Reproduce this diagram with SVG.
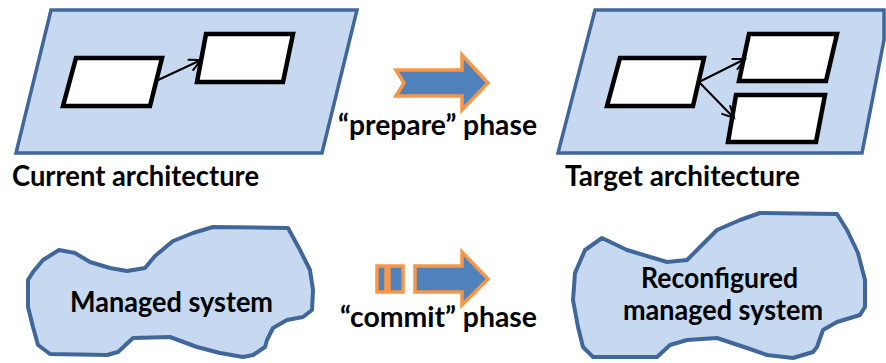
<svg xmlns="http://www.w3.org/2000/svg" width="886" height="363" viewBox="0 0 886 363">
<style>
.plane{fill:#c6d9f1;stroke:#41679a;stroke-width:3.5;stroke-linejoin:miter}
.box{fill:#ffffff;stroke:#000000;stroke-width:4.5;stroke-linejoin:miter}
.cloud{fill:#c6d9f1;stroke:#41679a;stroke-width:4;stroke-linejoin:round}
.conn{fill:none;stroke:#000000;stroke-width:2;marker-end:url(#head)}
.big{fill:#4f81bd;stroke:#f79646;stroke-width:3.5;stroke-linejoin:miter}
.lbl{font-family:Lato,"Open Sans","Liberation Sans",sans-serif;font-weight:bold;font-size:28px;fill:#000000}
</style>
<defs>
<marker id="head" markerUnits="userSpaceOnUse" markerWidth="16" markerHeight="16" refX="13" refY="7" orient="auto">
<path d="M1,1 L13,7 L1,13" fill="none" stroke="#000" stroke-width="2"/>
</marker>
</defs>
<rect width="886" height="363" fill="#ffffff"/>
<g id="current-architecture">
<polygon class="plane" points="51,10 357,10 322,153 16,153"/>
<polygon class="box" points="76,58 162,58 150,106 63,106"/>
<polygon class="box" points="206,34 293,34 283,82 197,82"/>
<text class="lbl" x="12" y="186" textLength="247" lengthAdjust="spacingAndGlyphs">Current architecture</text>
</g>
<g id="target-architecture">
<polygon class="plane" points="595,10 884,10 884,40 862,153 558,153"/>
<polygon class="box" points="620,58 704,58 693,106 607,106"/>
<polygon class="box" points="749,34 837,34 826,81 739,81"/>
<polygon class="box" points="736,95 825,95 816,142 728,142"/>
<text class="lbl" x="565" y="186" textLength="235" lengthAdjust="spacingAndGlyphs">Target architecture</text>
</g>
<g id="connectors">
<line class="conn" x1="156" y1="81" x2="201" y2="60"/>
<line class="conn" x1="699" y1="82" x2="745" y2="59"/>
<line class="conn" x1="699" y1="82" x2="734" y2="118"/>
</g>
<g id="prepare-phase">
<polygon class="big" points="396,70 462,70 462,55 488,83 462,110 462,96 396,96 404,83"/>
<text class="lbl" x="338" y="135" textLength="199" lengthAdjust="spacingAndGlyphs">“prepare” phase</text>
</g>
<g id="commit-phase">
<rect class="big" x="377" y="266" width="9" height="26"/>
<rect class="big" x="389" y="266" width="14" height="26"/>
<polygon class="big" points="415,266 462,266 462,252 488,279 462,305 462,292 415,292"/>
<text class="lbl" x="340" y="327" textLength="197" lengthAdjust="spacingAndGlyphs">“commit” phase</text>
</g>
<g id="managed-system">
<path class="cloud" d="M59,250 L75,253 L90,262 L110,268 L127,271 L145,268 L155,256 L173,241 L193,233 L213,227 L288,228 L300,250 L310,270 L313,290 L312,310 L303,317 L287,320 L273,328 L267,340 L265,347 L253,355 L243,357 L220,353 L197,347 L170,337 L133,338 L118,352 L107,355 L50,354 L38,345 L33,327 L28,307 L28,280 L33,272 L43,260 Z"/>
<text class="lbl" x="70" y="312" textLength="203" lengthAdjust="spacingAndGlyphs">Managed system</text>
</g>
<g id="reconfigured-managed-system">
<path class="cloud" d="M602,238 L627,250 L667,262 L687,260 L700,247 L717,230 L740,220 L760,213 L837,214 L847,230 L858,253 L865,280 L865,307 L860,315 L837,322 L823,330 L817,347 L813,352 L793,358 L767,355 L747,348 L717,338 L687,340 L670,345 L657,357 L593,357 L583,347 L578,327 L573,300 L575,273 L585,250 Z"/>
<text class="lbl" x="641" y="288" textLength="157" lengthAdjust="spacingAndGlyphs">Reconfigured</text>
<text class="lbl" x="623" y="320" textLength="200" lengthAdjust="spacingAndGlyphs">managed system</text>
</g>
</svg>
